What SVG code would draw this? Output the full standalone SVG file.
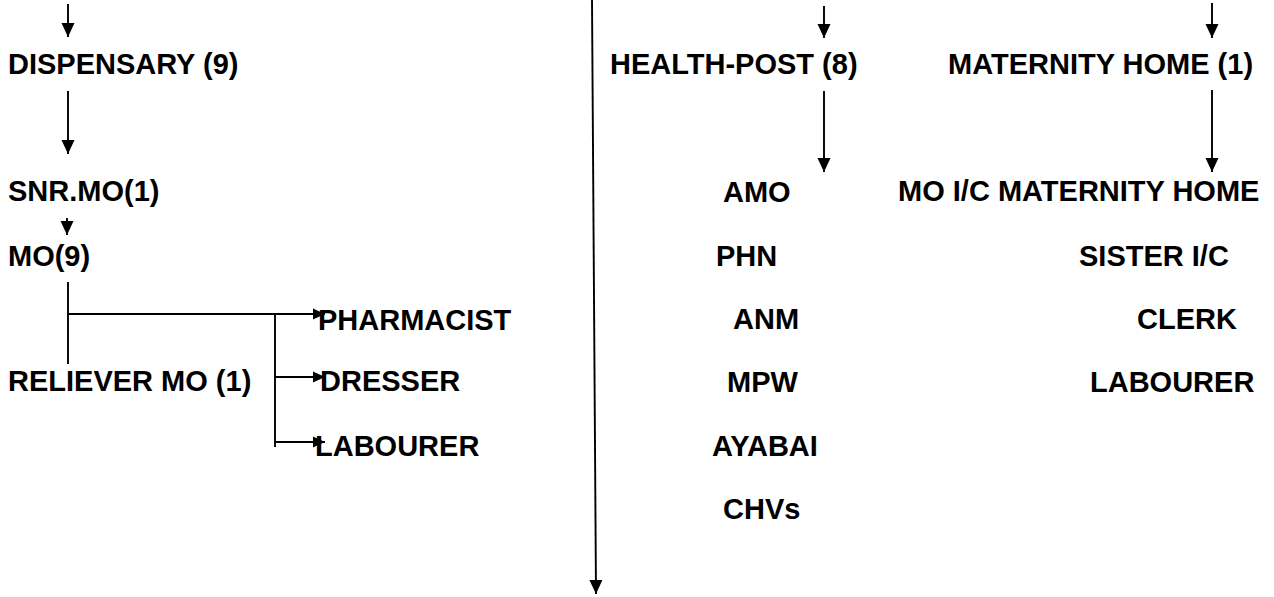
<svg xmlns="http://www.w3.org/2000/svg" width="1274" height="597" viewBox="0 0 1274 597">
<style>
text{font-family:"Liberation Sans",Arial,sans-serif;font-weight:bold;font-size:29px;fill:#000}
.c line{stroke:#000;stroke-width:1.9;fill:none}
</style>
<defs>
<marker id="ah" viewBox="0 0 14 14" refX="14" refY="7" markerWidth="14" markerHeight="14" markerUnits="userSpaceOnUse" orient="auto"><path d="M0,0.5 L14,7 L0,13.5 z" fill="#000"/></marker>
<marker id="ahs" viewBox="0 0 12 12" refX="12" refY="6" markerWidth="12" markerHeight="12" markerUnits="userSpaceOnUse" orient="auto"><path d="M0,0.5 L12,6 L0,11.5 z" fill="#000"/></marker>
</defs>
<rect width="1274" height="597" fill="#fff"/>
<g id="connectors" class="c">
<line x1="68" y1="4" x2="68" y2="37" marker-end="url(#ah)"/>
<line x1="68" y1="91" x2="68" y2="154" marker-end="url(#ah)"/>
<line x1="67" y1="218" x2="67" y2="235" marker-end="url(#ah)"/>
<line x1="68" y1="282" x2="68" y2="364"/>
<line x1="68" y1="314" x2="325" y2="314" marker-end="url(#ahs)"/>
<line x1="275" y1="314" x2="275" y2="447"/>
<line x1="275" y1="377" x2="325" y2="377" marker-end="url(#ahs)"/>
<line x1="275" y1="442" x2="325" y2="442" marker-end="url(#ahs)"/>
<line x1="592" y1="0" x2="596" y2="594" marker-end="url(#ah)"/>
<line x1="824" y1="6" x2="824" y2="38" marker-end="url(#ah)"/>
<line x1="824" y1="91" x2="824" y2="172" marker-end="url(#ah)"/>
<line x1="1212" y1="3" x2="1212" y2="38" marker-end="url(#ah)"/>
<line x1="1212" y1="90" x2="1212" y2="172" marker-end="url(#ah)"/>
</g>
<g id="dispensary"><text x="8" y="74">DISPENSARY (9)</text></g>
<g id="snr-mo"><text x="8" y="201">SNR.MO(1)</text></g>
<g id="mo"><text x="8" y="266">MO(9)</text></g>
<g id="reliever-mo"><text x="8" y="391">RELIEVER MO (1)</text></g>
<g id="pharmacist"><text x="318" y="330">PHARMACIST</text></g>
<g id="dresser"><text x="320" y="391">DRESSER</text></g>
<g id="labourer-d"><text x="315" y="456">LABOURER</text></g>
<g id="health-post"><text x="610" y="74">HEALTH-POST (8)</text></g>
<g id="amo"><text x="723" y="202">AMO</text></g>
<g id="phn"><text x="716" y="266">PHN</text></g>
<g id="anm"><text x="733" y="329">ANM</text></g>
<g id="mpw"><text x="727" y="392">MPW</text></g>
<g id="ayabai"><text x="712" y="456">AYABAI</text></g>
<g id="chvs"><text x="723" y="519">CHVs</text></g>
<g id="maternity-home"><text x="948" y="74">MATERNITY HOME (1)</text></g>
<g id="mo-ic"><text x="898" y="201">MO I/C MATERNITY HOME</text></g>
<g id="sister-ic"><text x="1079" y="266">SISTER I/C</text></g>
<g id="clerk"><text x="1137" y="329">CLERK</text></g>
<g id="labourer-m"><text x="1090" y="392">LABOURER</text></g>
</svg>
